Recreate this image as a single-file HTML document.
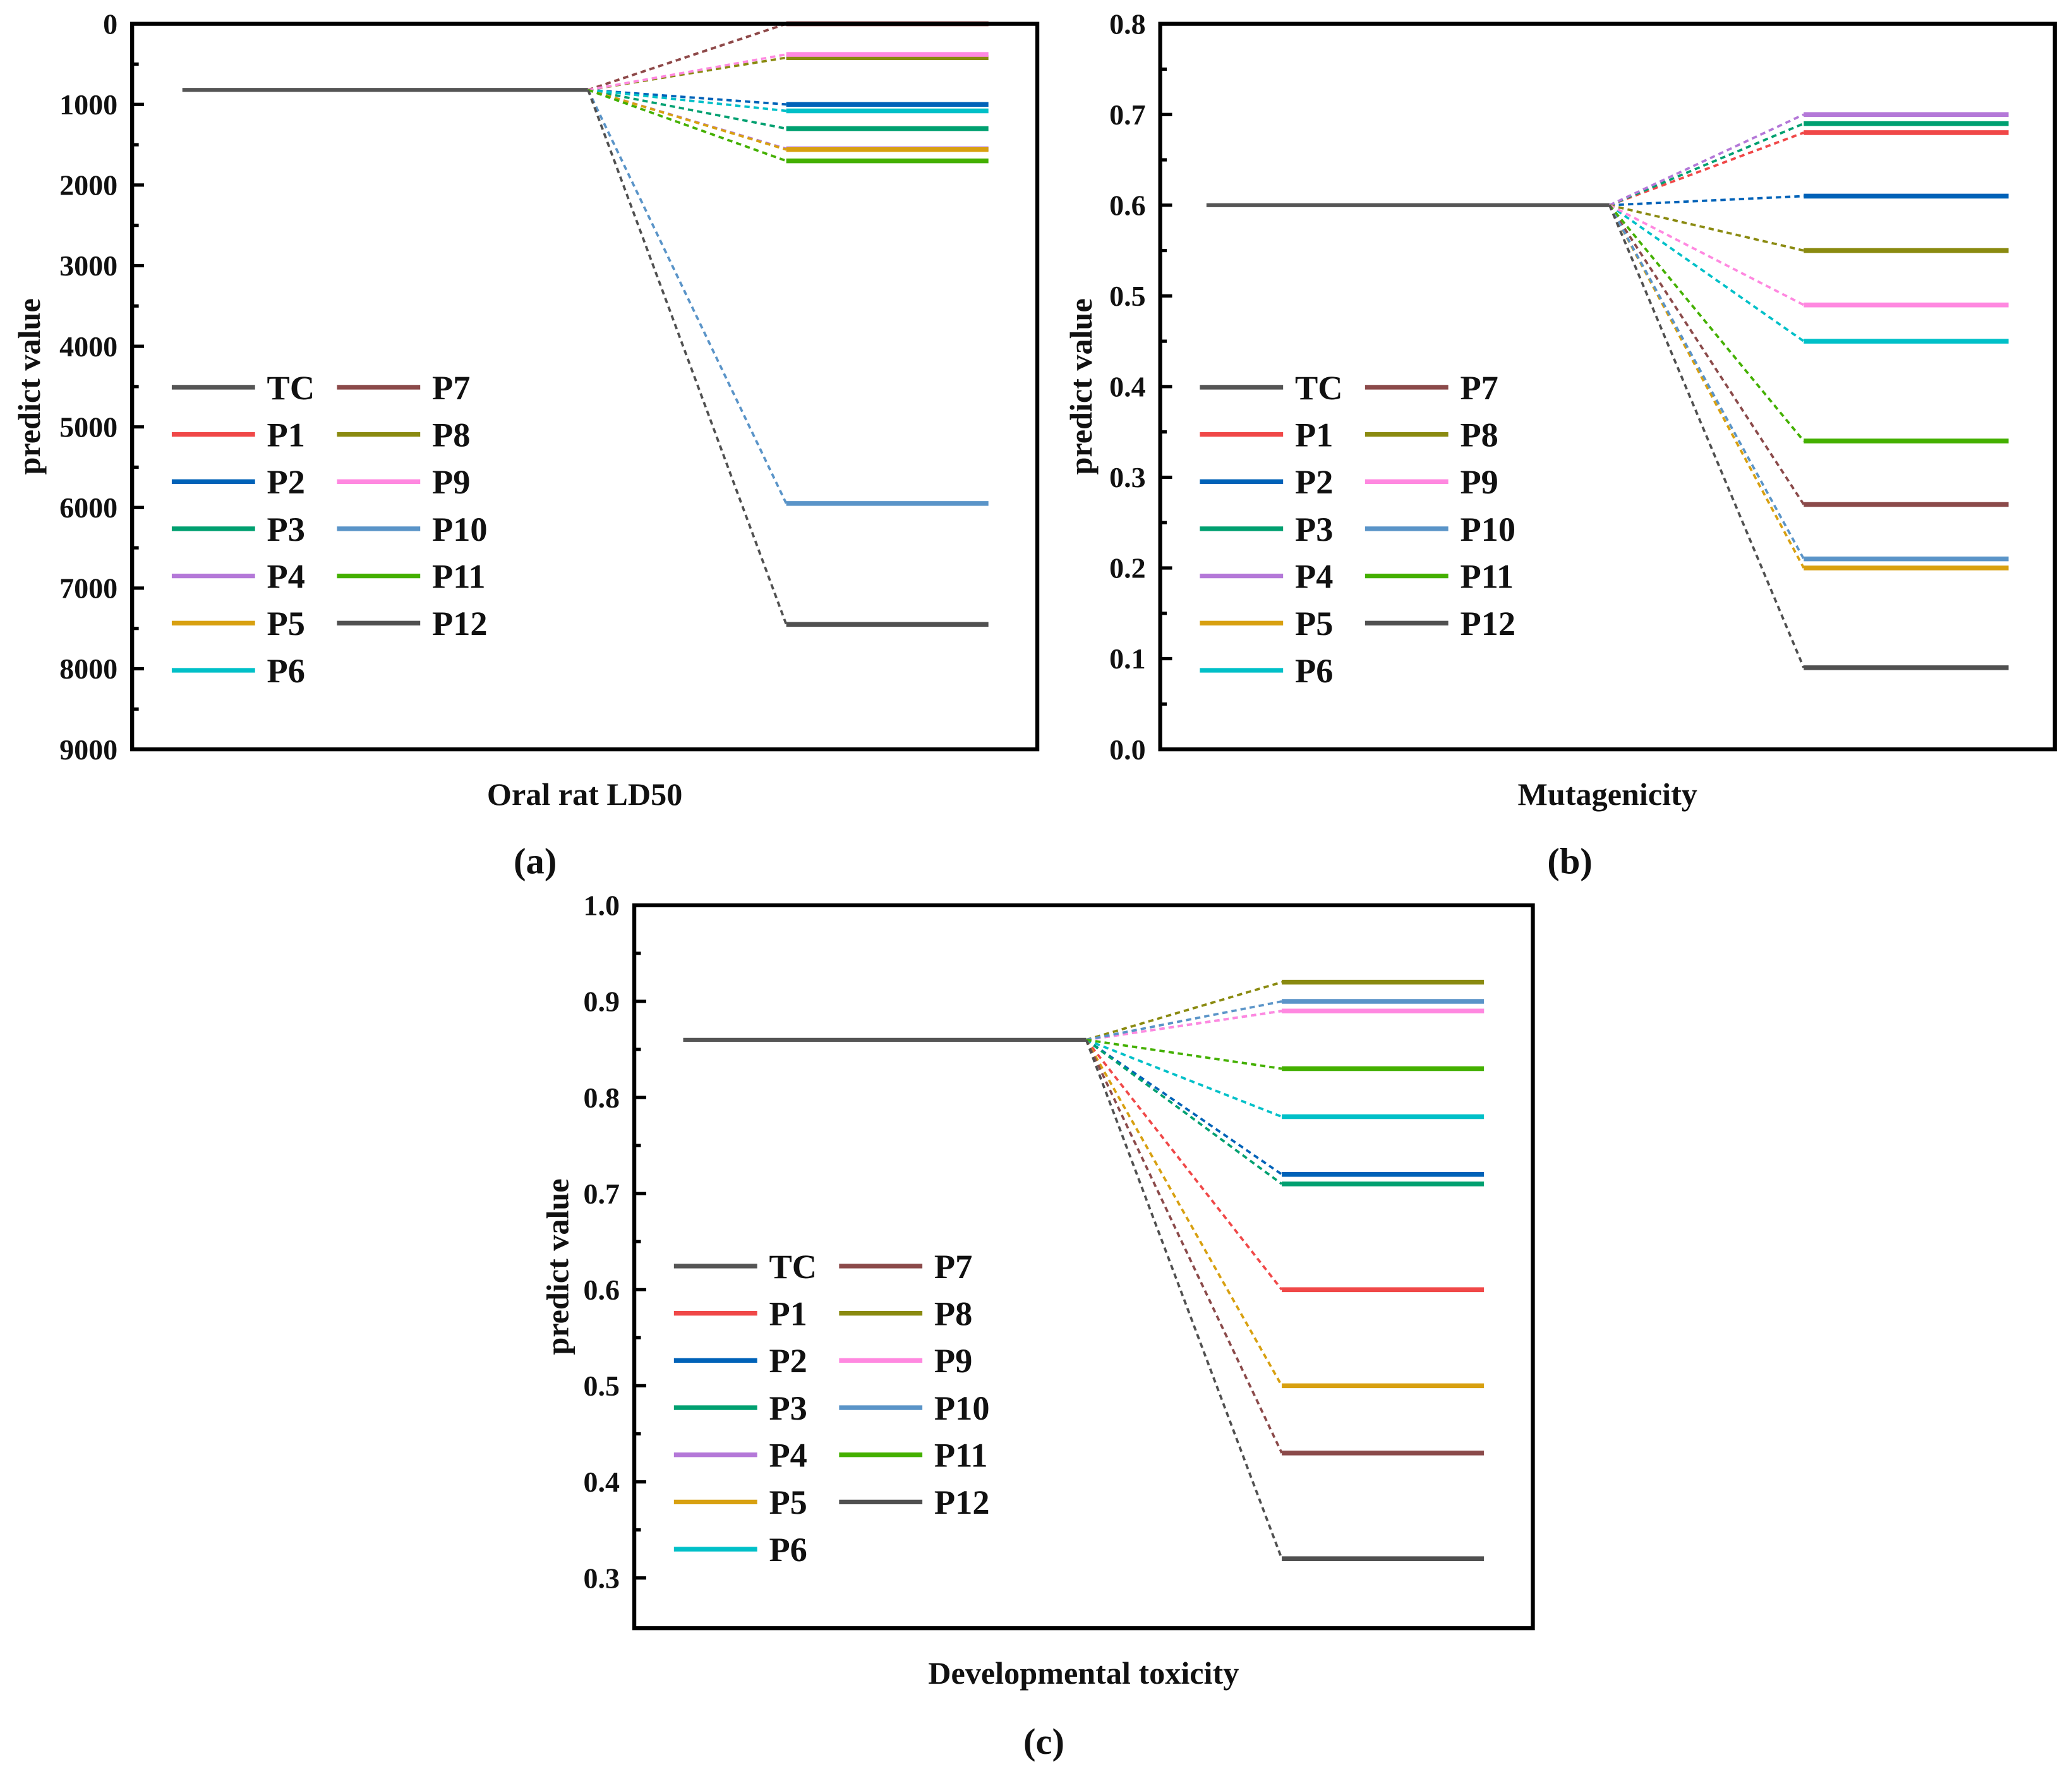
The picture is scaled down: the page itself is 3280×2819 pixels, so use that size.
<!DOCTYPE html>
<html><head><meta charset="utf-8">
<style>
html,body{margin:0;padding:0;background:#fff;}
svg{display:block;}
text{font-family:"Liberation Serif",serif;font-weight:bold;fill:#111;}
</style></head>
<body>
<svg id="fig" xmlns="http://www.w3.org/2000/svg" width="3280" height="2819" viewBox="0 0 1568 1347.6"></svg>
<script>
const seriesNames = ["P1","P2","P3","P4","P5","P6","P7","P8","P9","P10","P11","P12"];
const seriesColors = ["#f04848","#0062b8","#00a070","#b478d8","#d8a010","#00c0c8","#8b4a4a","#8a8a10","#ff88e0","#5a94c8","#44b000","#505050"];
const legendNames = ["TC","P1","P2","P3","P4","P5","P6","P7","P8","P9","P10","P11","P12"];
const legendColors = ["#555555","#f04848","#0062b8","#00a070","#b478d8","#d8a010","#00c0c8","#8b4a4a","#8a8a10","#ff88e0","#5a94c8","#44b000","#505050"];

const tcA = 820;
const valuesA = [0,1000,1300,1550,1560,1080,0,420,380,5950,1700,7450];
const ticksA = [0,1000,2000,3000,4000,5000,6000,7000,8000,9000];

const tcB = 0.6;
const valuesB = [0.68,0.61,0.69,0.70,0.20,0.45,0.27,0.55,0.49,0.21,0.34,0.09];
const ticksB = [0.0,0.1,0.2,0.3,0.4,0.5,0.6,0.7,0.8];

const tcC = 0.86;
const valuesC = [0.60,0.72,0.71,0.89,0.50,0.78,0.43,0.92,0.89,0.90,0.83,0.32];
const ticksC = [0.3,0.4,0.5,0.6,0.7,0.8,0.9,1.0];

const NS="http://www.w3.org/2000/svg";
const svg=document.getElementById('fig');
function mk(tag,attrs,parent){const e=document.createElementNS(NS,tag);for(const k in attrs)e.setAttribute(k,attrs[k]);(parent||svg).appendChild(e);return e;}

function panel(cfg){
  const g=mk('g',{});
  
  
  const {x0,x1,y0,y1,dmin,dmax,inverted}=cfg;
  const yS=v=>inverted? y0+(v-dmin)/(dmax-dmin)*(y1-y0) : y1-(v-dmin)/(dmax-dmin)*(y1-y0);
  const step=cfg.ticks[1]-cfg.ticks[0];
  cfg.ticks.forEach((t,i)=>{
    const y=yS(t);
    const tk=mk('line',{x1:x0,x2:x0+9,y1:y,y2:y,stroke:'#000','stroke-width':2.5},g);
    
    
    if(i<cfg.ticks.length-1){
      const ym=yS(t+step/2);
      if(ym>y0+2&&ym<y1-2){const mn=mk('line',{x1:x0,x2:x0+5,y1:ym,y2:ym,stroke:'#000','stroke-width':2.5},g);
      
      }
    }
    const lb=mk('text',{x:x0-11,y:y+7.5,'text-anchor':'end','font-size':22},g);
    lb.textContent=cfg.fmt(t);
    
    
  });
  const ty=yS(cfg.tc);
  const tc=mk('line',{x1:cfg.tcX0,x2:cfg.tcX1,y1:ty,y2:ty,stroke:'#555','stroke-width':3},g);
  
  
  cfg.values.forEach((v,i)=>{
    const y=yS(v);
    const d=mk('line',{x1:cfg.tcX1,y1:ty,x2:cfg.rX0,y2:y,stroke:seriesColors[i],'stroke-width':1.8,'stroke-dasharray':'4,3'},g);
    
    
  });
  cfg.values.forEach((v,i)=>{
    const y=yS(v);
    const l=mk('line',{x1:cfg.rX0,x2:cfg.rX1,y1:y,y2:y,stroke:seriesColors[i],'stroke-width':3.6},g);
    
    
  });
  const fr=mk('rect',{x:x0,y:y0,width:x1-x0,height:y1-y0,fill:'none',stroke:'#000','stroke-width':3},g);
  
  
  legendNames.forEach((n,i)=>{
    const col=i<7?0:1, row=i<7?i:i-7;
    const lx=cfg.legX+col*125, ly=cfg.legY+row*35.7;
    const ll=mk('line',{x1:lx,x2:lx+63,y1:ly,y2:ly,stroke:legendColors[i],'stroke-width':3.5},g);
    
    
    const lt=mk('text',{x:lx+72,y:ly+9,'font-size':26},g);
    lt.textContent=n;
    
    
  });
  const yt=mk('text',{transform:`translate(${cfg.ytX},${(y0+y1)/2}) rotate(-90)`,'text-anchor':'middle','font-size':24},g);
  yt.textContent='predict value';
  
  
  const xt=mk('text',{x:(x0+x1)/2,y:y1+42,'text-anchor':'middle','font-size':24},g);
  xt.textContent=cfg.xtitle;
  
  
  const pl=mk('text',{x:cfg.plX,y:cfg.plY,'text-anchor':'middle','font-size':28},g);
  pl.textContent=cfg.plabel;
  
  
}

panel({name:'panel-a-ld50',x0:100,x1:785,y0:18,y1:567,dmin:0,dmax:9000,inverted:true,ticks:ticksA,fmt:t=>String(t),
  tc:tcA,values:valuesA,tcX0:138,tcX1:445,rX0:595,rX1:748,legX:130,legY:293,ytX:30,xtitle:'Oral rat LD50',plabel:'(a)',plX:405,plY:661});
panel({name:'panel-b-mutagenicity',x0:878,x1:1555,y0:18,y1:567,dmin:0,dmax:0.8,inverted:false,ticks:ticksB,fmt:t=>t.toFixed(1),
  tc:tcB,values:valuesB,tcX0:913,tcX1:1218,rX0:1365,rX1:1520,legX:908,legY:293,ytX:826,xtitle:'Mutagenicity',plabel:'(b)',plX:1188,plY:661});
panel({name:'panel-c-developmental',x0:480,x1:1160,y0:685,y1:1232,dmin:0.2477,dmax:1.0,inverted:false,ticks:ticksC,fmt:t=>t.toFixed(1),
  tc:tcC,values:valuesC,tcX0:517,tcX1:822,rX0:970,rX1:1123,legX:510,legY:958,ytX:430,xtitle:'Developmental toxicity',plabel:'(c)',plX:790,plY:1327});
</script>
</body></html>
